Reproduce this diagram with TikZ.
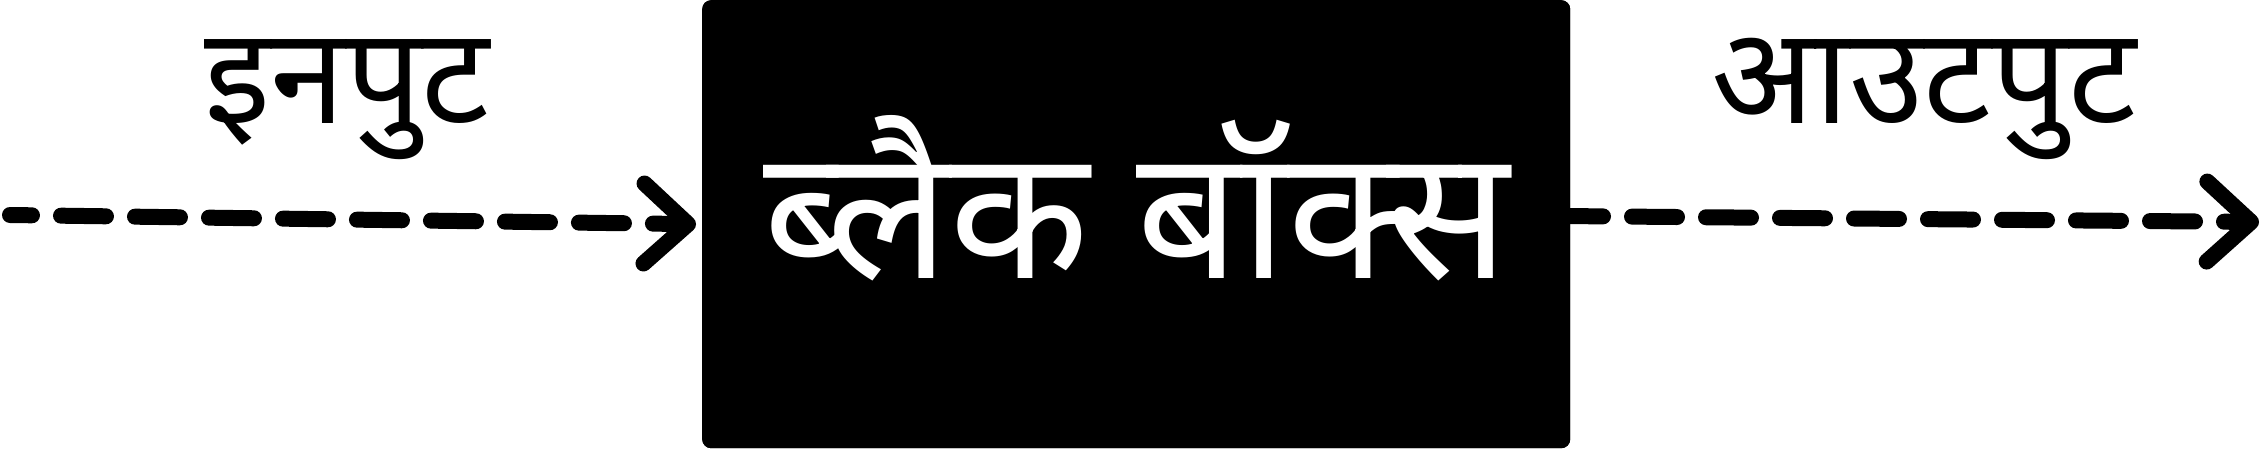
\documentclass[tikz,border=0pt]{standalone}
\usepackage{fontspec}
\newfontfamily\deva[Script=Devanagari]{Noto Sans}
\usetikzlibrary{arrows.meta}
\begin{document}
\begin{tikzpicture}[x=1pt,y=-1pt,
  flow/.style={line width=16pt, line cap=round, dash pattern=on 45pt off 29pt,
    -{Straight Barb[length=44pt,width=80pt,line cap=round,line join=round]}},
  label/.style={inner sep=0pt, anchor=base, font=\deva\fontsize{135}{160}\selectfont},
  boxtext/.style={inner sep=0pt, anchor=base, text=white, font=\deva\fontsize{182}{216}\selectfont},
  blackbox/.style={draw=none, fill=black, rounded corners=9pt, minimum width=868pt,
    minimum height=448pt, inner sep=0pt, anchor=north west}]
\useasboundingbox (0,0) rectangle (2266,448);
\coordinate (inStart) at (10,215);
\coordinate (outEnd) at (2259,222);
\coordinate (outStart) at (1560,216);
\node[blackbox] (box) at (702,0) {};
\draw[flow, dash phase=23pt] (inStart) -- ([xshift=-6pt]box.west);
\draw[flow, dash phase=2pt] (outStart) -- (outEnd);
\node[blackbox] (boxtop) at (702,0) {};
\node[boxtext] (bt) at (1136,278) {ब्लैक बॉक्स};
\node[label] (inlab) at (347,123) {इनपुट};
\node[label] (outlab) at (1924,123) {आउटपुट};
\end{tikzpicture}
\end{document}
